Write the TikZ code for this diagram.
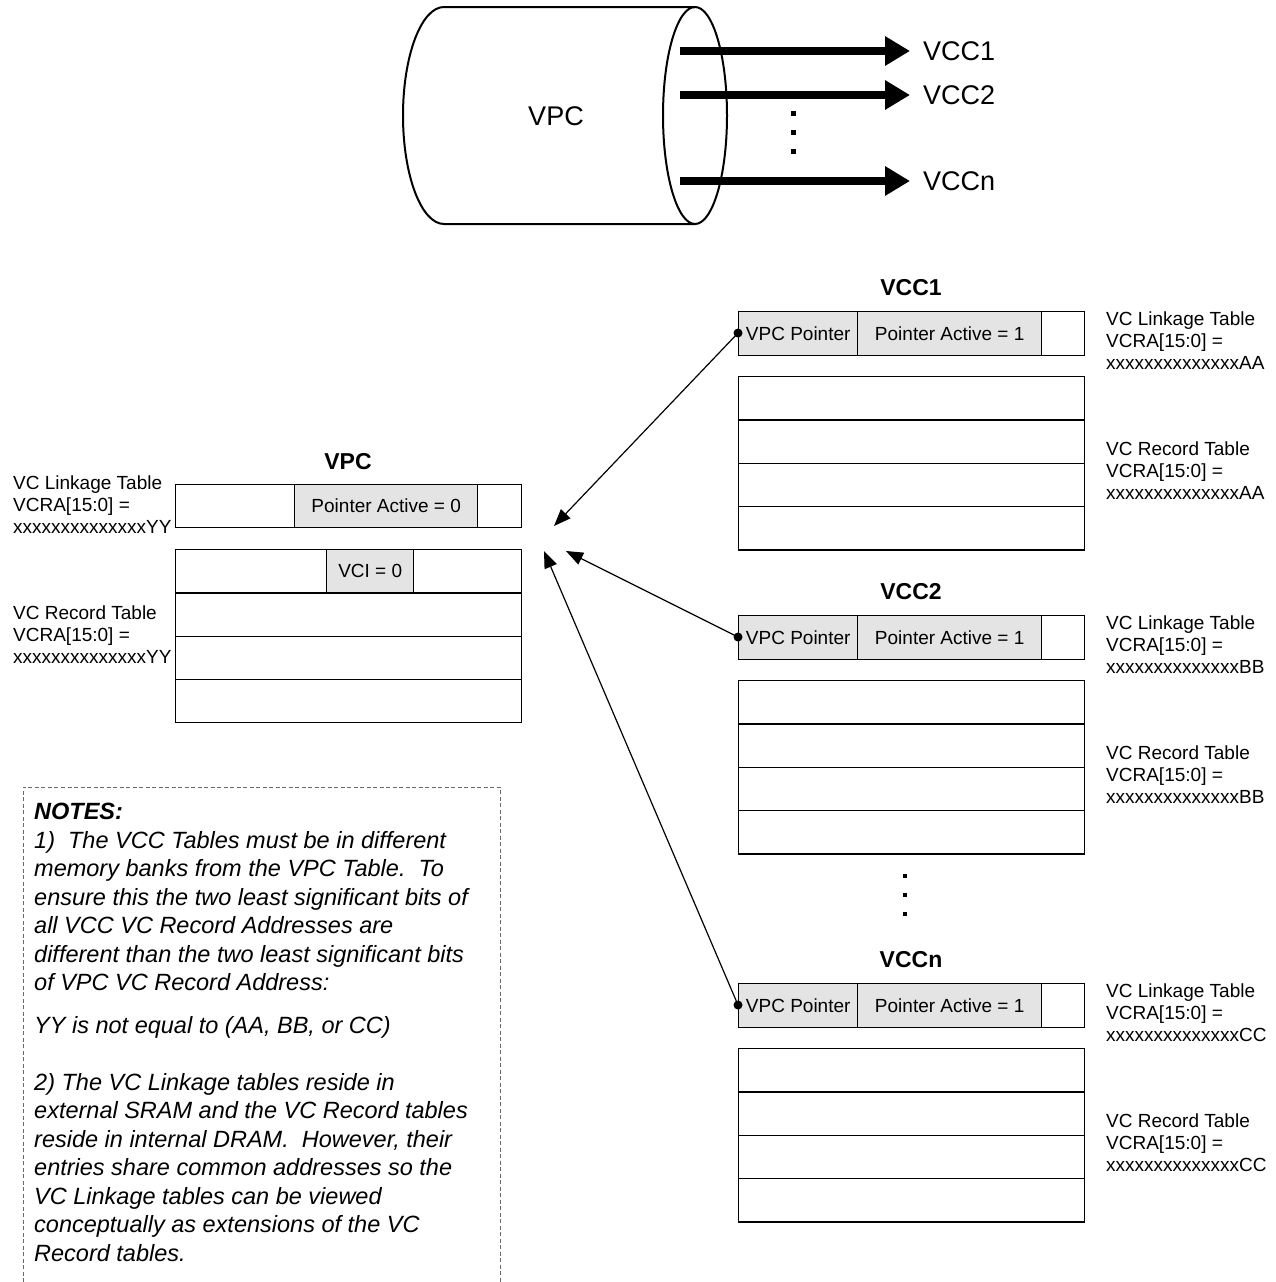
\documentclass[tikz,border=0pt]{standalone}
\usepackage{fontspec}
\setmainfont{Liberation Sans}
\usetikzlibrary{arrows.meta}
\definecolor{cellgray}{RGB}{228,228,228}
\definecolor{notegray}{RGB}{105,105,105}
\newcommand\tabfont{\fontsize{19}{22}\selectfont}
\newcommand\bigfont{\fontsize{27}{32}\selectfont}
\newcommand\ttlfont{\fontsize{23}{27}\selectfont\bfseries}
\newcommand\notefont{\fontsize{23.5}{28.5}\selectfont\itshape}
\newcommand\vcctable[4]{%
  \node[tabtitle] (#1title) at (911,{#2-23}) {#3};
  \node[cell,fill=cellgray,minimum width=119,minimum height=44] (#1ptr) at (738,#2) {VPC Pointer};
  \node[cell,fill=cellgray,minimum width=184,minimum height=44] (#1act) at (857,#2) {Pointer Active = 1};
  \node[cell,minimum width=43,minimum height=44] (#1end) at (1041,#2) {};
  \node[cell,minimum width=346,minimum height=43.3] (#1reca) at (738,{#2+65}) {};
  \node[cell,minimum width=346,minimum height=43.3] (#1recb) at (738,{#2+108.3}) {};
  \node[cell,minimum width=346,minimum height=43.3] (#1recc) at (738,{#2+151.6}) {};
  \node[cell,minimum width=346,minimum height=43.3] (#1recd) at (738,{#2+194.9}) {};
  \node[sidelabel] (#1lk) at (1106,{#2+30}) {VC Linkage Table\\VCRA[15:0] =\\xxxxxxxxxxxxxx#4};
  \node[sidelabel] (#1rl) at (1106,{#2+160}) {VC Record Table\\VCRA[15:0] =\\xxxxxxxxxxxxxx#4};
  \node[ptrdot] (#1dot) at (738,{#2+22}) {};
}
\begin{document}
\begin{tikzpicture}[x=1pt,y=-1pt,
  cell/.style={draw, line width=1.4pt, anchor=north west, inner sep=0pt, font=\tabfont},
  tabtitle/.style={font=\ttlfont, inner sep=0pt},
  sidelabel/.style={font=\tabfont, align=left, anchor=west, inner sep=0pt},
  ptrdot/.style={circle, fill=black, inner sep=0pt, minimum size=9pt},
  ptrarrow/.style={line width=1.2pt, -{Triangle[length=17pt,width=13pt]}},
  bigarrow/.style={line width=7.5pt, -{Triangle[length=25pt,width=28pt]}},
  biglabel/.style={font=\bigfont, anchor=west, inner xsep=13pt, inner ysep=0pt},
  cyl/.style={line width=2pt},
  sqdot/.style={rectangle, fill=black, inner sep=0pt, minimum size=5pt},
  notebox/.style={draw=notegray, line width=1pt, dash pattern=on 4pt off 2.5pt},
  notes/.style={font=\notefont, align=left, anchor=north west, inner sep=0pt}]
\useasboundingbox (0,0) rectangle (1275,1282);
\fill[white] (0,0) rectangle (1275,1282);

% ---- cylinder ----
\coordinate (s1) at (680,51);
\coordinate (s2) at (680,95);
\coordinate (s3) at (680,181);
\node[biglabel] (lvcc1) at (910,51) {VCC1};
\node[biglabel] (lvcc2) at (910,95) {VCC2};
\node[biglabel] (lvccn) at (910,181) {VCCn};
\draw[bigarrow] (s1) -- (lvcc1.west);
\draw[bigarrow] (s2) -- (lvcc2.west);
\draw[bigarrow] (s3) -- (lvccn.west);
\draw[cyl] (695,7) -- (444,7) arc[start angle=270, end angle=90, x radius=41, y radius=108.5] -- (695,224);
\draw[cyl] (695,115.5) ellipse[x radius=32, y radius=108.5];
\node[font=\bigfont] (cylvpc) at (556,116) {VPC};
\node[sqdot] (td1) at (793,113) {};
\node[sqdot] (td2) at (793,132) {};
\node[sqdot] (td3) at (793,151) {};

% ---- VPC table ----
\node[tabtitle] (vpctitle) at (348,462) {VPC};
\node[cell,minimum width=119,minimum height=43] (vpcla) at (175,484) {};
\node[cell,fill=cellgray,minimum width=183,minimum height=43] (vpcact) at (294,484) {Pointer Active = 0};
\node[cell,minimum width=44,minimum height=43] (vpclc) at (477,484) {};
\node[cell,minimum width=346,minimum height=43.25] (vpcra) at (175,549) {};
\node[cell,minimum width=346,minimum height=43.25] (vpcrb) at (175,592.25) {};
\node[cell,minimum width=346,minimum height=43.25] (vpcrc) at (175,635.5) {};
\node[cell,minimum width=346,minimum height=43.25] (vpcrd) at (175,678.75) {};
\node[cell,fill=cellgray,minimum width=87,minimum height=43.25] (vci) at (326,549) {VCI = 0};
\node[sidelabel] (vpclk) at (13,505) {VC Linkage Table\\VCRA[15:0] =\\xxxxxxxxxxxxxxYY};
\node[sidelabel] (vpcrl) at (13,635) {VC Record Table\\VCRA[15:0] =\\xxxxxxxxxxxxxxYY};

% ---- VCC tables ----
\vcctable{vcca}{311}{VCC1}{AA}
\vcctable{vccb}{615}{VCC2}{BB}
\vcctable{vccn}{983}{VCCn}{CC}
\node[sqdot,minimum size=4.5pt] (md1) at (905,876) {};
\node[sqdot,minimum size=4.5pt] (md2) at (905,895) {};
\node[sqdot,minimum size=4.5pt] (md3) at (905,914) {};

% ---- pointer connectors ----
\coordinate (t1) at (554,526);
\coordinate (t2) at (566,551);
\coordinate (t3) at (544,551);
\draw[ptrarrow] (vccadot.center) -- (t1);
\draw[ptrarrow] (vccbdot.center) -- (t2);
\draw[ptrarrow] (vccndot.center) -- (t3);

% ---- notes ----
\draw[notebox] (23,1282) -- (23,787) -- (500,787) -- (500,1282);
\node[notes] (notetext) at (34,803) {\textbf{NOTES:}\\
1)\ \ The VCC Tables must be in different\\
memory banks from the VPC Table.\ \ To\\
ensure this the two least significant bits of\\
all VCC VC Record Addresses are\\
different than the two least significant bits\\
of VPC VC Record Address:\\[14pt]
YY is not equal to (AA, BB, or CC)\\[28.5pt]
2) The VC Linkage tables reside in\\
external SRAM and the VC Record tables\\
reside in internal DRAM.\ \ However, their\\
entries share common addresses so the\\
VC Linkage tables can be viewed\\
conceptually as extensions of the VC\\
Record tables.};
\end{tikzpicture}
\end{document}
